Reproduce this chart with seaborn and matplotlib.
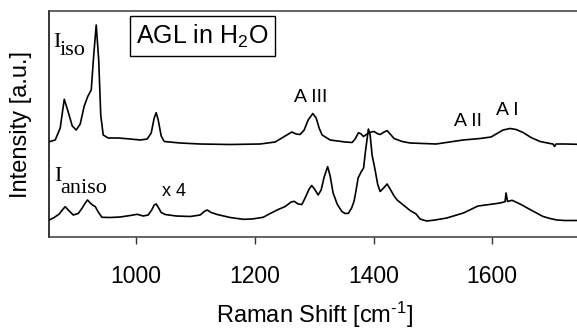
import matplotlib
matplotlib.use("Agg")
import matplotlib.pyplot as plt
import seaborn as sns
import pandas as pd

# Isotropic spectrum (wavenumber cm-1, intensity a.u.)
iso_x = [853.4, 863.5, 871.9, 878.7, 885.4, 892.2, 898.9, 905.6, 912.4, 918.3, 924.2,
         928.4, 932.6, 936.8, 940.2, 944.4, 952.8, 969.7, 989.9, 1006.7, 1018.5, 1025.3,
         1030.3, 1033.7, 1037.1, 1042.1, 1047.2, 1074.1, 1107.8, 1158.4, 1208.9, 1234.2,
         1251.1, 1262.3, 1269.6, 1276.3, 1283.1, 1289.8, 1297.7, 1303.3, 1308.3, 1313.4,
         1326.9, 1352.1, 1363.9, 1369.0, 1374.6, 1379.1, 1383.0, 1389.2, 1396.0, 1401.0,
         1406.1, 1411.1, 1417.9, 1422.9, 1428.0, 1434.7, 1448.2, 1461.7, 1505.5, 1551.0,
         1579.6, 1598.1, 1608.2, 1618.4, 1630.2, 1640.3, 1652.1, 1665.5, 1680.7, 1697.5,
         1702.6, 1705.1, 1707.7, 1722.8, 1743.0]
iso_y = [95.3, 97, 109, 137.7, 125, 111, 107, 113, 131, 140.5, 147,
         182, 212, 177, 122, 102, 99, 99, 98, 97, 98, 104,
         119, 124.3, 117, 101, 95.5, 94, 93, 92.5, 93, 95,
         101, 105, 103, 102.5, 107, 117, 123.5, 119, 109, 102,
         97, 95, 94.5, 98, 104.3, 103, 100.5, 103, 105, 105.5,
         103.5, 102.5, 105, 106.3, 103, 98.5, 95.5, 94, 93, 97,
         98.5, 100, 103.5, 107, 108.5, 107.5, 104.5, 99.5, 95.5, 93.5,
         93, 90.5, 93, 93, 92.7]

# Anisotropic spectrum (x 4)
aniso_x = [853.4, 861.8, 870.3, 875.3, 880.4, 885.4, 893.9, 902.3, 909.0, 914.1, 917.9,
           922.5, 927.5, 930.9, 936.0, 942.2, 956.2, 973.0, 989.9, 1001.7, 1011.8, 1020.2,
           1026.1, 1030.3, 1033.7, 1037.9, 1042.1, 1048.9, 1067.4, 1091.0, 1107.8, 1114.6,
           1119.6, 1126.4, 1136.5, 1158.4, 1180.3, 1195.4, 1214.0, 1225.8, 1237.6, 1251.1,
           1261.2, 1266.2, 1273.0, 1279.2, 1284.7, 1291.5, 1296.0, 1301.6, 1306.7, 1311.7,
           1316.8, 1322.7, 1326.9, 1331.9, 1338.7, 1346.6, 1352.1, 1357.7, 1363.1, 1367.3,
           1370.7, 1374.0, 1379.1, 1383.3, 1386.7, 1391.4, 1394.3, 1397.6, 1402.7, 1406.9,
           1411.1, 1417.0, 1422.9, 1428.0, 1434.7, 1439.8, 1448.2, 1461.7, 1471.8, 1478.5,
           1483.6, 1489.8, 1503.8, 1523.5, 1551.5, 1576.2, 1601.5, 1613.3, 1621.7, 1623.4,
           1625.9, 1633.5, 1647.0, 1663.8, 1685.8, 1697.5, 1709.3, 1722.8, 1743.0]
aniso_y = [17, 19.5, 23, 27, 30.3, 27, 22, 23.5, 29, 34, 37,
           34, 31.5, 30.5, 25, 19.7, 19.5, 20, 21.5, 22.7, 21, 22,
           27, 32, 33, 29, 24.5, 22.5, 21, 20.5, 22, 25.5,
           27, 24.5, 22.5, 19.5, 17.7, 18, 19.7, 23.5, 27, 30.5,
           35, 35.7, 33, 32.5, 39, 48, 51.5, 47, 42, 47,
           60, 70.3, 61, 44, 33, 25.5, 23.5, 23.7, 29, 36,
           47, 59, 65, 69, 87, 108, 102, 82, 67, 53,
           45.5, 49, 53, 48, 41, 37, 33, 26.5, 23, 18,
           17, 16, 17, 19, 24, 31, 33, 34, 35.3, 44,
           35.5, 36.7, 33, 27.5, 20.5, 18.5, 17, 16.5, 16.5]

xticks = [1000, 1200, 1400, 1600]

sns.set_theme(style="white")
plt.rcParams['font.family'] = ['Liberation Sans', 'DejaVu Sans']
plt.rcParams['mathtext.fontset'] = 'custom'
plt.rcParams['mathtext.rm'] = 'Liberation Sans'
plt.rcParams['mathtext.it'] = 'Liberation Sans'
plt.rcParams['text.color'] = 'black'
plt.rcParams['axes.labelcolor'] = 'black'
plt.rcParams['xtick.color'] = 'black'
plt.rcParams['ytick.color'] = 'black'

fig = plt.figure(figsize=(5.77, 3.31), dpi=100)
ax = fig.add_axes([49 / 577, 1 - 237 / 331, 532 / 577, 226 / 331])

df_iso = pd.DataFrame({"x": iso_x, "y": iso_y})
df_an = pd.DataFrame({"x": aniso_x, "y": aniso_y})
sns.lineplot(data=df_iso, x="x", y="y", color="black", lw=1.2, estimator=None, ax=ax)
sns.lineplot(data=df_an, x="x", y="y", color="black", lw=1.2, estimator=None, ax=ax)

ax.set_xlim(853, 1743 + 4 * 1.685)
ax.set_ylim(0, 226)
ax.set_xticks(xticks)
ax.set_xticklabels([str(t) for t in xticks], fontsize=16.5)
ax.set_yticks([])
ax.tick_params(axis='x', direction='out', length=5, width=1, color='#333333',
               labelcolor='black', pad=15, bottom=True)
for s in ['left', 'top', 'bottom']:
    ax.spines[s].set_visible(True)
    ax.spines[s].set_color('#3a3a3a')
    ax.spines[s].set_linewidth(1.1)
ax.spines['left'].set_color('black')
ax.spines['right'].set_visible(False)

ax.set_xlabel("Raman Shift [cm$^{\\mathrm{\u2010}1}$]", fontsize=17, labelpad=9,
              color='black')
ax.set_ylabel("Intensity [a.u.]", fontsize=17, labelpad=12, color='black')

serif = ['Liberation Serif', 'DejaVu Serif']
ax.text(860, 190, "I", family=serif, fontsize=16, ha='left', va='baseline')
ax.text(870, 182, "iso", family=serif, fontsize=16, ha='left', va='baseline')
ax.text(861, 56, "I", family=serif, fontsize=16, ha='left', va='baseline')
ax.text(872, 44, "aniso", family=serif, fontsize=16, ha='left', va='baseline')

ax.text(1044, 40.5, "x 4", fontsize=13, ha='left', va='baseline')
ax.text(1266, 134.5, "A III", fontsize=14, ha='left', va='baseline')
ax.text(1536, 111, "A II", fontsize=14, ha='left', va='baseline')
ax.text(1607, 122, "A I", fontsize=14, ha='left', va='baseline')

ax.text(1112, 201, r"AGL in H$_2$O", fontsize=18, ha='center', va='center',
        bbox=dict(boxstyle='square,pad=0.25', fc='white', ec='black', lw=1))

fig.savefig("out.png", dpi=100)
